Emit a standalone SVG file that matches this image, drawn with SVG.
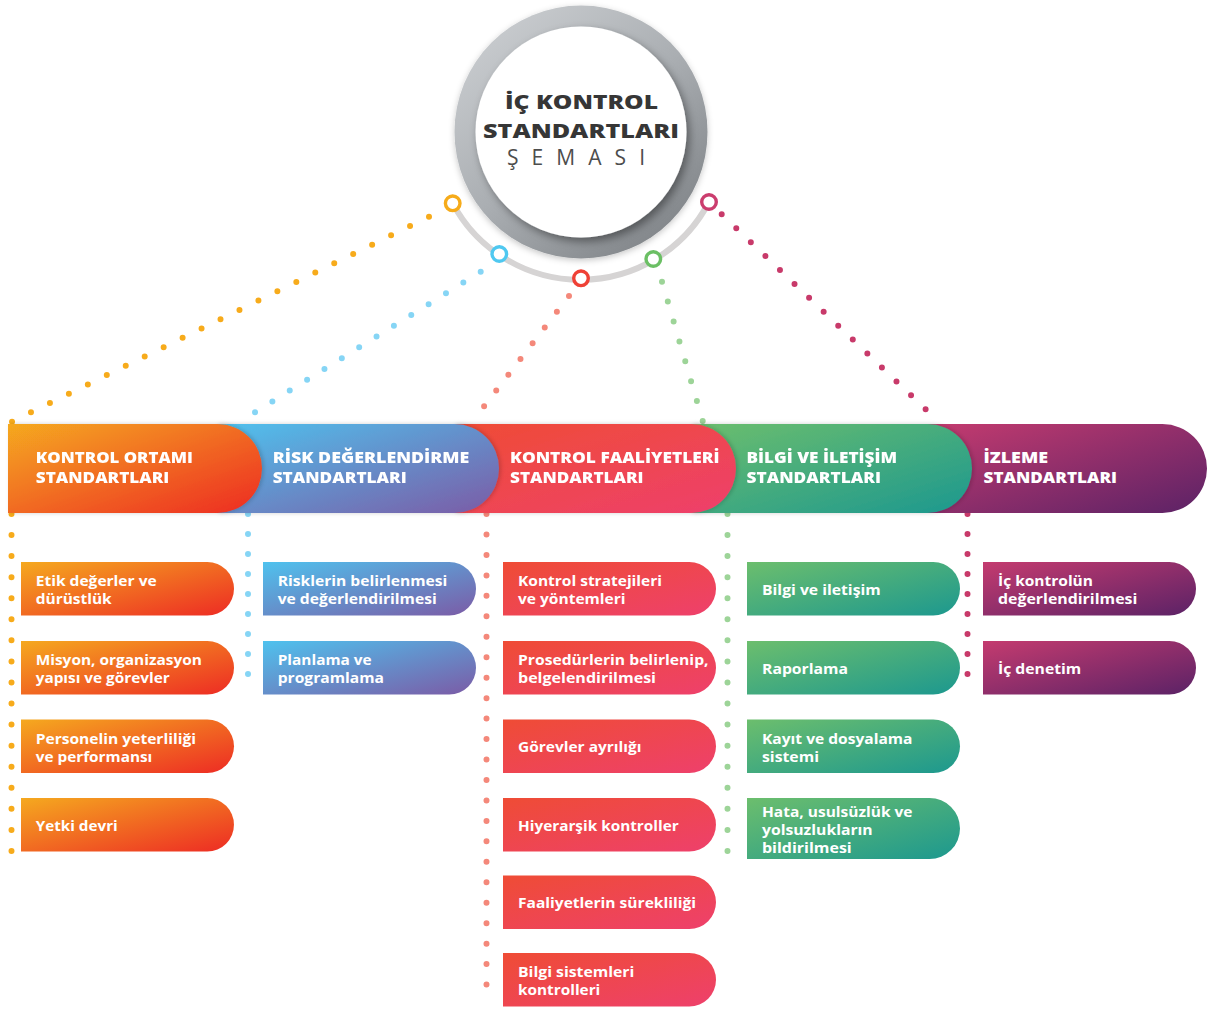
<svg xmlns="http://www.w3.org/2000/svg" width="1208" height="1011" viewBox="0 0 1208 1011">
<defs>
<linearGradient id="gO" x1="0" y1="0" x2="1" y2="1"><stop offset="0" stop-color="#f5a91f"/><stop offset="1" stop-color="#ed2b24"/></linearGradient>
<linearGradient id="gB" x1="0" y1="0" x2="1" y2="1"><stop offset="0" stop-color="#4fc2ee"/><stop offset="1" stop-color="#7b5ba6"/></linearGradient>
<linearGradient id="gR" x1="0" y1="0" x2="1" y2="1"><stop offset="0" stop-color="#ef4c35"/><stop offset="1" stop-color="#ee406c"/></linearGradient>
<linearGradient id="gG" x1="0" y1="0" x2="1" y2="1"><stop offset="0" stop-color="#6cbe6d"/><stop offset="1" stop-color="#1c988f"/></linearGradient>
<linearGradient id="gP" x1="0" y1="0" x2="1" y2="1"><stop offset="0" stop-color="#c43b6f"/><stop offset="1" stop-color="#5b2266"/></linearGradient>
<linearGradient id="gRing" x1="0.1" y1="0" x2="0.9" y2="1"><stop offset="0" stop-color="#cdd0d3"/><stop offset="0.5" stop-color="#aaaeb2"/><stop offset="1" stop-color="#7a7e82"/></linearGradient>
<filter id="fRing" x="-20%" y="-20%" width="140%" height="140%"><feDropShadow dx="0" dy="2" stdDeviation="3" flood-color="#000" flood-opacity="0.22"/></filter>
<filter id="fInner" x="-20%" y="-20%" width="140%" height="140%"><feDropShadow dx="3" dy="4" stdDeviation="4" flood-color="#000" flood-opacity="0.4"/></filter>
<filter id="fBar" x="-5%" y="-10%" width="110%" height="120%"><feDropShadow dx="2" dy="0" stdDeviation="2" flood-color="#000" flood-opacity="0.18"/></filter>
<style>
.dot{fill:none;stroke-width:6;stroke-linecap:round}
.ring{fill:#fff;stroke-width:3.4}
.ht{font-family:"Open Sans","Noto Sans",sans-serif;font-weight:800;font-size:16.5px;fill:#fff}
.it{font-family:"Open Sans","Noto Sans",sans-serif;font-weight:700;font-size:14.5px;fill:#fff}
.ct{font-family:"Open Sans","Noto Sans",sans-serif;font-weight:800;font-size:20px;fill:#363636}
.cs{font-family:"Open Sans","Noto Sans",sans-serif;font-weight:400;font-size:21px;fill:#4d4d4d}
</style>
</defs>
<rect width="1208" height="1011" fill="#fff"/>

<g id="connectors">
<path d="M452.7,203.3 A145,145 0 0 0 709,202" fill="none" stroke="#d6d4d4" stroke-width="6"/>
<path class="dot" stroke="#f7ab1b" stroke-dasharray="0 21.12" d="M429,216.7 L12,421.7"/>
<path class="dot" stroke="#f7ab1b" stroke-dasharray="0 21.06" d="M11.5,514 V851"/>
<path class="dot" stroke="#86d5f5" stroke-dasharray="0 20.45" d="M480.7,271.7 L237.7,423"/>
<path class="dot" stroke="#86d5f5" stroke-dasharray="0 20" d="M248,514 V694"/>
<path class="dot" stroke="#f4887a" stroke-dasharray="0 19.88" d="M569,296 L472,422"/>
<path class="dot" stroke="#f4887a" stroke-dasharray="0 20.46" d="M486.5,514 V1005"/>
<path class="dot" stroke="#9dd498" stroke-dasharray="0 20.73" d="M662,281.7 L702.7,421"/>
<path class="dot" stroke="#9dd498" stroke-dasharray="0 21.06" d="M727.5,514 V851"/>
<path class="dot" stroke="#c83a6a" stroke-dasharray="0 20.15" d="M721.7,214.3 L940,423"/>
<path class="dot" stroke="#c83a6a" stroke-dasharray="0 20" d="M967.5,514 V694"/>
<circle class="ring" cx="452.7" cy="203.3" r="7.3" stroke="#f6ab1a"/>
<circle class="ring" cx="499.3" cy="254" r="7.3" stroke="#4fc8f0"/>
<circle class="ring" cx="581" cy="278.3" r="7.3" stroke="#ef4136"/>
<circle class="ring" cx="653.3" cy="259" r="7.3" stroke="#6bbf64"/>
<circle class="ring" cx="709" cy="202" r="7.3" stroke="#cb3d6e"/>
</g>

<g id="center">
<circle cx="581" cy="132" r="126.5" fill="url(#gRing)" filter="url(#fRing)"/>
<circle cx="581" cy="132" r="105.5" fill="#fff" filter="url(#fInner)"/>
<text class="ct" x="505" y="108.5" textLength="153" lengthAdjust="spacingAndGlyphs">İÇ KONTROL</text>
<text class="ct" x="483" y="137.5" textLength="196" lengthAdjust="spacingAndGlyphs">STANDARTLARI</text>
<text class="cs" x="507" y="164.5" textLength="138" lengthAdjust="spacing">ŞEMASI</text>
</g>

<g id="headers">
<g id="h-izleme"><path d="M927,424 H1162.5 A44.5,44.5 0 0 1 1162.5,513 H927 Z" fill="url(#gP)"/>
<text class="ht" x="983.5" y="463" textLength="64.5" lengthAdjust="spacingAndGlyphs">İZLEME</text>
<text class="ht" x="983.5" y="483" textLength="133.5" lengthAdjust="spacingAndGlyphs">STANDARTLARI</text></g>
<g id="h-bilgi" filter="url(#fBar)"><path d="M691,424 H927.5 A44.5,44.5 0 0 1 927.5,513 H691 Z" fill="url(#gG)"/>
<text class="ht" x="746.5" y="463" textLength="150.5" lengthAdjust="spacingAndGlyphs">BİLGİ VE İLETİŞİM</text>
<text class="ht" x="746.5" y="483" textLength="134.5" lengthAdjust="spacingAndGlyphs">STANDARTLARI</text></g>
<g id="h-faaliyet" filter="url(#fBar)"><path d="M454,424 H691.5 A44.5,44.5 0 0 1 691.5,513 H454 Z" fill="url(#gR)"/>
<text class="ht" x="510" y="463" textLength="209.5" lengthAdjust="spacingAndGlyphs">KONTROL FAALİYETLERİ</text>
<text class="ht" x="510" y="483" textLength="133.5" lengthAdjust="spacingAndGlyphs">STANDARTLARI</text></g>
<g id="h-risk" filter="url(#fBar)"><path d="M217,424 H454.5 A44.5,44.5 0 0 1 454.5,513 H217 Z" fill="url(#gB)"/>
<text class="ht" x="272.7" y="463" textLength="196.7" lengthAdjust="spacingAndGlyphs">RİSK DEĞERLENDİRME</text>
<text class="ht" x="272.7" y="483" textLength="134" lengthAdjust="spacingAndGlyphs">STANDARTLARI</text></g>
<g id="h-ortam" filter="url(#fBar)"><path d="M8,424 H217.5 A44.5,44.5 0 0 1 217.5,513 H8 Z" fill="url(#gO)"/>
<text class="ht" x="35.8" y="463" textLength="157" lengthAdjust="spacingAndGlyphs">KONTROL ORTAMI</text>
<text class="ht" x="35.8" y="483" textLength="133.5" lengthAdjust="spacingAndGlyphs">STANDARTLARI</text></g>
</g>

<g id="items">
<g id="o1"><path d="M21,562 H207.25 A26.75,26.75 0 0 1 207.25,615.5 H21 Z" fill="url(#gO)"/>
<text class="it" x="35.7" y="586.3" textLength="121" lengthAdjust="spacingAndGlyphs">Etik değerler ve</text>
<text class="it" x="35.7" y="604.3" textLength="76" lengthAdjust="spacingAndGlyphs">dürüstlük</text></g>
<g id="o2"><path d="M21,641 H207.25 A26.75,26.75 0 0 1 207.25,694.5 H21 Z" fill="url(#gO)"/>
<text class="it" x="35.7" y="665.3" textLength="166.3" lengthAdjust="spacingAndGlyphs">Misyon, organizasyon</text>
<text class="it" x="35.7" y="683.3" textLength="134" lengthAdjust="spacingAndGlyphs">yapısı ve görevler</text></g>
<g id="o3"><path d="M21,719.5 H207.25 A26.75,26.75 0 0 1 207.25,773 H21 Z" fill="url(#gO)"/>
<text class="it" x="35.7" y="743.8" textLength="160.3" lengthAdjust="spacingAndGlyphs">Personelin yeterliliği</text>
<text class="it" x="35.7" y="761.8" textLength="116.6" lengthAdjust="spacingAndGlyphs">ve performansı</text></g>
<g id="o4"><path d="M21,798 H207.25 A26.75,26.75 0 0 1 207.25,851.5 H21 Z" fill="url(#gO)"/>
<text class="it" x="35.7" y="830.5" textLength="82" lengthAdjust="spacingAndGlyphs">Yetki devri</text></g>

<g id="b1"><path d="M263,562 H449.25 A26.75,26.75 0 0 1 449.25,615.5 H263 Z" fill="url(#gB)"/>
<text class="it" x="277.7" y="586.3" textLength="169.6" lengthAdjust="spacingAndGlyphs">Risklerin belirlenmesi</text>
<text class="it" x="277.7" y="604.3" textLength="159" lengthAdjust="spacingAndGlyphs">ve değerlendirilmesi</text></g>
<g id="b2"><path d="M263,641 H449.25 A26.75,26.75 0 0 1 449.25,694.5 H263 Z" fill="url(#gB)"/>
<text class="it" x="277.7" y="665.3" textLength="94" lengthAdjust="spacingAndGlyphs">Planlama ve</text>
<text class="it" x="277.7" y="683.3" textLength="106.3" lengthAdjust="spacingAndGlyphs">programlama</text></g>

<g id="r1"><path d="M503,562 H689.25 A26.75,26.75 0 0 1 689.25,615.5 H503 Z" fill="url(#gR)"/>
<text class="it" x="518" y="586.3" textLength="144" lengthAdjust="spacingAndGlyphs">Kontrol stratejileri</text>
<text class="it" x="518" y="604.3" textLength="107.5" lengthAdjust="spacingAndGlyphs">ve yöntemleri</text></g>
<g id="r2"><path d="M503,641 H689.25 A26.75,26.75 0 0 1 689.25,694.5 H503 Z" fill="url(#gR)"/>
<text class="it" x="518" y="665.3" textLength="190.5" lengthAdjust="spacingAndGlyphs">Prosedürlerin belirlenip,</text>
<text class="it" x="518" y="683.3" textLength="138" lengthAdjust="spacingAndGlyphs">belgelendirilmesi</text></g>
<g id="r3"><path d="M503,719.5 H689.25 A26.75,26.75 0 0 1 689.25,773 H503 Z" fill="url(#gR)"/>
<text class="it" x="518" y="752" textLength="123.4" lengthAdjust="spacingAndGlyphs">Görevler ayrılığı</text></g>
<g id="r4"><path d="M503,798 H689.25 A26.75,26.75 0 0 1 689.25,851.5 H503 Z" fill="url(#gR)"/>
<text class="it" x="518" y="830.5" textLength="160.7" lengthAdjust="spacingAndGlyphs">Hiyerarşik kontroller</text></g>
<g id="r5"><path d="M503,875.5 H689.25 A26.75,26.75 0 0 1 689.25,929 H503 Z" fill="url(#gR)"/>
<text class="it" x="518" y="908" textLength="178" lengthAdjust="spacingAndGlyphs">Faaliyetlerin sürekliliği</text></g>
<g id="r6"><path d="M503,953 H689.25 A26.75,26.75 0 0 1 689.25,1006.5 H503 Z" fill="url(#gR)"/>
<text class="it" x="518" y="977.3" textLength="116.3" lengthAdjust="spacingAndGlyphs">Bilgi sistemleri</text>
<text class="it" x="518" y="995.3" textLength="82.3" lengthAdjust="spacingAndGlyphs">kontrolleri</text></g>

<g id="g1"><path d="M747,562 H933.25 A26.75,26.75 0 0 1 933.25,615.5 H747 Z" fill="url(#gG)"/>
<text class="it" x="762" y="594.5" textLength="118.7" lengthAdjust="spacingAndGlyphs">Bilgi ve iletişim</text></g>
<g id="g2"><path d="M747,641 H933.25 A26.75,26.75 0 0 1 933.25,694.5 H747 Z" fill="url(#gG)"/>
<text class="it" x="762" y="673.5" textLength="86" lengthAdjust="spacingAndGlyphs">Raporlama</text></g>
<g id="g3"><path d="M747,719.5 H933.25 A26.75,26.75 0 0 1 933.25,773 H747 Z" fill="url(#gG)"/>
<text class="it" x="762" y="743.8" textLength="150.5" lengthAdjust="spacingAndGlyphs">Kayıt ve dosyalama</text>
<text class="it" x="762" y="761.8" textLength="57" lengthAdjust="spacingAndGlyphs">sistemi</text></g>
<g id="g4"><path d="M747,798 H929.5 A30.5,30.5 0 0 1 929.5,859 H747 Z" fill="url(#gG)"/>
<text class="it" x="762" y="816.7" textLength="150.5" lengthAdjust="spacingAndGlyphs">Hata, usulsüzlük ve</text>
<text class="it" x="762" y="834.7" textLength="110.7" lengthAdjust="spacingAndGlyphs">yolsuzlukların</text>
<text class="it" x="762" y="852.7" textLength="89.7" lengthAdjust="spacingAndGlyphs">bildirilmesi</text></g>

<g id="p1"><path d="M983,562 H1169.25 A26.75,26.75 0 0 1 1169.25,615.5 H983 Z" fill="url(#gP)"/>
<text class="it" x="998" y="586.3" textLength="95" lengthAdjust="spacingAndGlyphs">İç kontrolün</text>
<text class="it" x="998" y="604.3" textLength="139.3" lengthAdjust="spacingAndGlyphs">değerlendirilmesi</text></g>
<g id="p2"><path d="M983,641 H1169.25 A26.75,26.75 0 0 1 1169.25,694.5 H983 Z" fill="url(#gP)"/>
<text class="it" x="998" y="673.5" textLength="83.2" lengthAdjust="spacingAndGlyphs">İç denetim</text></g>
</g>
</svg>
